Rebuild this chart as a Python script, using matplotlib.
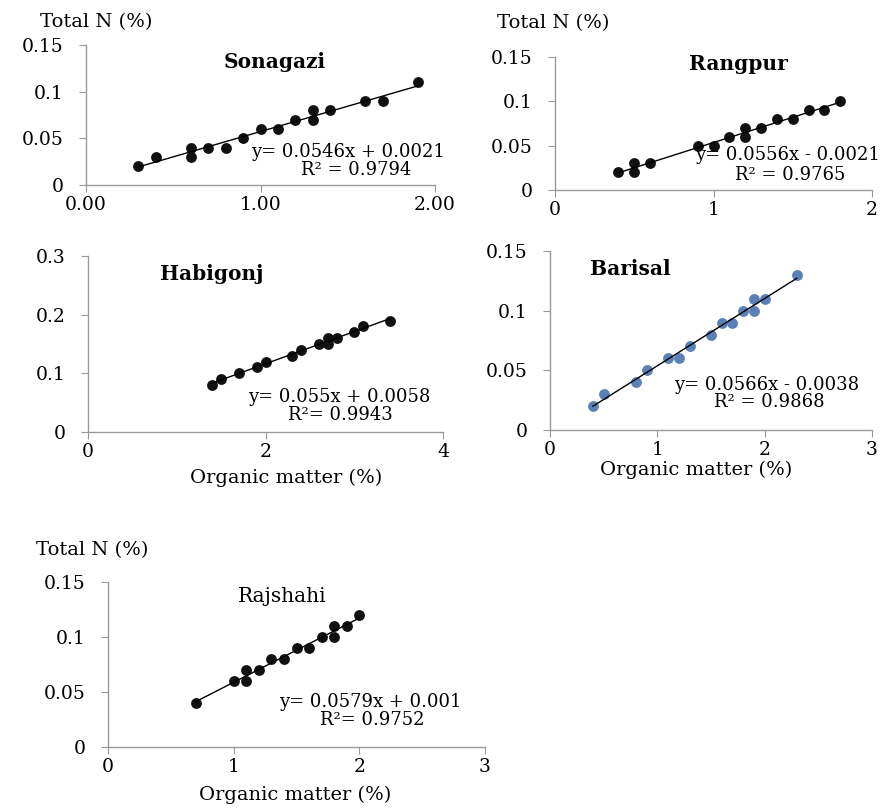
import numpy as np
import matplotlib
matplotlib.use("Agg")
import matplotlib.pyplot as plt

plt.rcParams['font.family'] = ['DejaVu Serif']

W, H = 891, 810

# data (organic matter %, total N %)
sonagazi_om = [0.3, 0.4, 0.6, 0.6, 0.7, 0.8, 0.9, 1.0, 1.1, 1.2, 1.3, 1.3, 1.4, 1.6, 1.7, 1.9]
sonagazi_n = [0.02, 0.03, 0.04, 0.03, 0.04, 0.04, 0.05, 0.06, 0.06, 0.07, 0.07, 0.08, 0.08, 0.09, 0.09, 0.11]

rangpur_om = [0.4, 0.5, 0.5, 0.6, 0.9, 1.0, 1.1, 1.2, 1.2, 1.3, 1.4, 1.5, 1.6, 1.7, 1.8]
rangpur_n = [0.02, 0.03, 0.02, 0.03, 0.05, 0.05, 0.06, 0.06, 0.07, 0.07, 0.08, 0.08, 0.09, 0.09, 0.10]

habigonj_om = [1.4, 1.5, 1.7, 1.9, 2.0, 2.3, 2.4, 2.6, 2.7, 2.7, 2.8, 3.0, 3.1, 3.4]
habigonj_n = [0.08, 0.09, 0.10, 0.11, 0.12, 0.13, 0.14, 0.15, 0.15, 0.16, 0.16, 0.17, 0.18, 0.19]

barisal_om = [0.4, 0.5, 0.8, 0.9, 1.1, 1.2, 1.3, 1.5, 1.6, 1.7, 1.8, 1.9, 1.9, 2.0, 2.3]
barisal_n = [0.02, 0.03, 0.04, 0.05, 0.06, 0.06, 0.07, 0.08, 0.09, 0.09, 0.10, 0.10, 0.11, 0.11, 0.13]

rajshahi_om = [0.7, 1.0, 1.1, 1.1, 1.2, 1.3, 1.4, 1.5, 1.6, 1.7, 1.8, 1.8, 1.9, 2.0]
rajshahi_n = [0.04, 0.06, 0.06, 0.07, 0.07, 0.08, 0.08, 0.09, 0.09, 0.10, 0.10, 0.11, 0.11, 0.12]

titles = ['Sonagazi', 'Rangpur', 'Habigonj', 'Barisal', 'Rajshahi']
equations = ["y= 0.0546x + 0.0021", "y= 0.0556x - 0.0021", "y= 0.055x + 0.0058",
             "y= 0.0566x - 0.0038", "y= 0.0579x + 0.001"]
r2_texts = ["R² = 0.9794", "R² = 0.9765", "R²= 0.9943", "R² = 0.9868", "R²= 0.9752"]


def px(x, y):
    return x / W, 1 - y / H


def box(l, t, r, b):
    return [l / W, 1 - b / H, (r - l) / W, (b - t) / H]


fig = plt.figure(figsize=(W / 100, H / 100), dpi=100)
fig.patch.set_facecolor('white')

panels = [
    # axes box, data, xticks, xticklabels, yticks, yticklabels, colour
    (box(86, 45, 435, 185), sonagazi_om, sonagazi_n, [0, 1, 2], ['0.00', '1.00', '2.00'],
     [0, 0.05, 0.1, 0.15], ['0', '0.05', '0.1', '0.15'], '#111111'),
    (box(555, 57, 872, 190), rangpur_om, rangpur_n, [0, 1, 2], ['0', '1', '2'],
     [0, 0.05, 0.1, 0.15], ['0', '0.05', '0.1', '0.15'], '#111111'),
    (box(88, 256, 443, 432), habigonj_om, habigonj_n, [0, 2, 4], ['0', '2', '4'],
     [0, 0.1, 0.2, 0.3], ['0', '0.1', '0.2', '0.3'], '#111111'),
    (box(550, 251, 872, 430), barisal_om, barisal_n, [0, 1, 2, 3], ['0', '1', '2', '3'],
     [0, 0.05, 0.1, 0.15], ['0', '0.05', '0.1', '0.15'], '#5b80b6'),
    (box(108, 582, 485, 747), rajshahi_om, rajshahi_n, [0, 1, 2, 3], ['0', '1', '2', '3'],
     [0, 0.05, 0.1, 0.15], ['0', '0.05', '0.1', '0.15'], '#111111'),
]

for rect, xs, ys, xt, xtl, yt, ytl, col in panels:
    ax = fig.add_axes(rect)
    xs = np.array(xs)
    ys = np.array(ys)
    ax.plot(xs, ys, 'o', color=col, markersize=7.8, markeredgewidth=0, zorder=3)
    # linear trend line over the data range
    k, c = np.polyfit(xs, ys, 1)
    xl = np.array([xs.min(), xs.max()])
    ax.plot(xl, k * xl + c, color='black', lw=1, zorder=4)
    ax.set_xlim(xt[0], xt[-1])
    ax.set_ylim(yt[0], yt[-1])
    ax.set_xticks(xt)
    ax.set_xticklabels(xtl)
    ax.set_yticks(yt)
    ax.set_yticklabels(ytl)
    for s in ['top', 'right']:
        ax.spines[s].set_visible(False)
    for s in ['left', 'bottom']:
        ax.spines[s].set_color('#9a9a9a')
        ax.spines[s].set_linewidth(1)
    ax.tick_params(direction='out', length=5, color='#9a9a9a', labelsize=13.5)
    ax.tick_params(axis='y', pad=11)
    ax.tick_params(axis='x', pad=3)
    ax.patch.set_alpha(0)

# panel titles
title_pos = [(275, 62), (738, 64), (212, 274), (630, 269), (282, 597)]
for (x, y), t in zip(title_pos, titles):
    fw = 'normal' if t == 'Rajshahi' else 'bold'
    fig.text(*px(x, y), t, ha='center', va='center', fontsize=14.5, fontweight=fw)

# trend-line equations
eq_pos = [(348, 152, 356, 170), (787, 155, 790, 175), (339, 397, 340, 415),
          (767, 385, 769, 402), (370, 702, 372, 720)]
for (ex, ey, rx, ry), eq, r2 in zip(eq_pos, equations, r2_texts):
    fig.text(*px(ex, ey), eq, ha='center', va='center', fontsize=13)
    fig.text(*px(rx, ry), r2, ha='center', va='center', fontsize=13)

# axis titles
for x, y in [(96, 22), (553, 23), (92, 550)]:
    fig.text(*px(x, y), 'Total N (%)', ha='center', va='center', fontsize=14)
for x, y in [(286, 478), (696, 470), (295, 795)]:
    fig.text(*px(x, y), 'Organic matter (%)', ha='center', va='center', fontsize=14)

fig.savefig('out.png', dpi=100, facecolor='white')
